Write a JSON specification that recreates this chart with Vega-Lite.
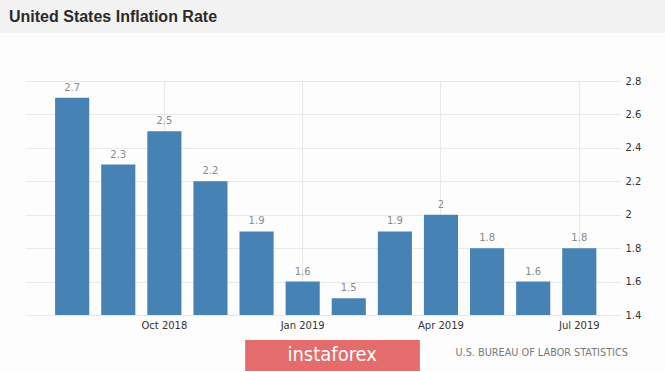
{
  "$schema": "https://vega.github.io/schema/vega-lite/v6.json",
  "padding": 0,
  "spacing": 0,
  "background": "#fdfdfd",
  "config": {"view": {"stroke": null}},
  "vconcat": [
    {
      "width": 640,
      "height": 76,
      "data": {"values": [{"title": "United States Inflation Rate"}]},
      "layer": [
        {
          "mark": {"type": "rect", "color": "#f2f2f2"},
          "encoding": {
            "x": {"datum": -0.039, "type": "quantitative", "scale": {"domain": [0, 1]}, "axis": null},
            "x2": {"datum": 1},
            "y": {"datum": 0, "type": "quantitative", "scale": {"domain": [0, 1], "reverse": true}, "axis": null},
            "y2": {"datum": 0.434}
          }
        },
        {
          "mark": {"type": "text", "align": "left", "baseline": "middle", "font": "Liberation Sans", "fontWeight": "bold", "fontSize": 16, "color": "#2b2b2b"},
          "encoding": {
            "x": {"datum": -0.025, "type": "quantitative"},
            "y": {"datum": 0.224, "type": "quantitative"},
            "text": {"field": "title"}
          }
        }
      ]
    },
    {
      "width": 595,
      "height": 234,
      "data": {"values": [
        {"month": "Aug 2018", "rate": 2.7},
        {"month": "Sep 2018", "rate": 2.3},
        {"month": "Oct 2018", "rate": 2.5},
        {"month": "Nov 2018", "rate": 2.2},
        {"month": "Dec 2018", "rate": 1.9},
        {"month": "Jan 2019", "rate": 1.6},
        {"month": "Feb 2019", "rate": 1.5},
        {"month": "Mar 2019", "rate": 1.9},
        {"month": "Apr 2019", "rate": 2.0},
        {"month": "May 2019", "rate": 1.8},
        {"month": "Jun 2019", "rate": 1.6},
        {"month": "Jul 2019", "rate": 1.8}
      ]},
      "resolve": {"axis": {"y": "independent"}},
      "layer": [
        {
          "mark": {"type": "bar", "color": "#4682b4"},
          "encoding": {
            "x": {
              "field": "month", "type": "ordinal", "sort": null,
              "scale": {"type": "band", "paddingInner": 0.26, "paddingOuter": 0.583, "align": 0.56},
              "axis": {
                "values": ["Oct 2018", "Jan 2019", "Apr 2019", "Jul 2019"],
                "bandPosition": 0.5,
                "grid": true, "gridColor": "#e8e8e8", "gridWidth": 1,
                "ticks": false, "domain": false, "labelAngle": 0, "title": null,
                "labelFont": "DejaVu Sans", "labelFontSize": 10, "labelColor": "#333333", "labelPadding": 5
              }
            },
            "y": {
              "field": "rate", "type": "quantitative",
              "scale": {"domain": [1.4, 2.8], "zero": false, "nice": false},
              "axis": {
                "orient": "right",
                "values": [1.4, 1.6, 1.8, 2.0, 2.2, 2.4, 2.6, 2.8],
                "format": "~g",
                "grid": true, "gridColor": "#e8e8e8", "gridWidth": 1,
                "ticks": false, "domain": false, "title": null,
                "labelFont": "DejaVu Sans", "labelFontSize": 10, "labelColor": "#333333", "labelPadding": 5
              }
            },
            "y2": {"datum": 1.4}
          }
        },
        {
          "mark": {"type": "text", "dy": -10, "baseline": "middle", "font": "DejaVu Sans", "fontSize": 10, "color": "#8a8a8a"},
          "encoding": {
            "x": {"field": "month", "type": "ordinal", "sort": null},
            "y": {
              "field": "rate", "type": "quantitative",
              "axis": {"orient": "left", "labels": false, "ticks": false, "domain": false, "grid": false, "title": null, "minExtent": 25, "maxExtent": 25}
            },
            "text": {"field": "rate", "type": "quantitative", "format": "~g"}
          }
        }
      ]
    },
    {
      "width": 640,
      "height": 41,
      "data": {"values": [{"logo": "instaforex", "source": "U.S. BUREAU OF LABOR STATISTICS"}]},
      "layer": [
        {
          "mark": {"type": "rect", "color": "#e46c6c"},
          "encoding": {
            "x": {"datum": 0.344, "type": "quantitative", "scale": {"domain": [0, 1]}, "axis": null},
            "x2": {"datum": 0.617},
            "y": {"datum": 0.244, "type": "quantitative", "scale": {"domain": [0, 1], "reverse": true}, "axis": null},
            "y2": {"datum": 1}
          }
        },
        {
          "mark": {"type": "text", "align": "center", "baseline": "middle", "font": "DejaVu Sans Condensed", "fontSize": 20, "color": "#ffffff"},
          "encoding": {
            "x": {"datum": 0.48, "type": "quantitative"},
            "y": {"datum": 0.61, "type": "quantitative"},
            "text": {"field": "logo"}
          }
        },
        {
          "mark": {"type": "text", "align": "right", "baseline": "middle", "font": "DejaVu Sans Condensed", "fontSize": 10.8, "color": "#7a7a7a"},
          "encoding": {
            "x": {"datum": 0.942, "type": "quantitative"},
            "y": {"datum": 0.56, "type": "quantitative"},
            "text": {"field": "source"}
          }
        }
      ]
    }
  ]
}
